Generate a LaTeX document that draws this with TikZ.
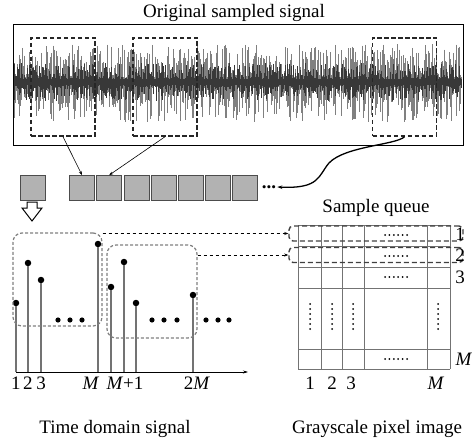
\documentclass[tikz,border=0pt]{standalone}
\usepackage{fontspec}
\setmainfont{Liberation Serif}
\usetikzlibrary{arrows.meta,positioning}
\tikzset{
    lbl/.style = {font=\fontsize{19}{22}\selectfont, inner sep=0pt},
    sel-box/.style = {draw=black!85, line width=1.5pt, dash pattern=on 4.5pt off 2.5pt, minimum width=64pt, minimum height=98pt, inner sep=0pt},
    q-cell/.style = {draw=black!70, fill=black!30, line width=0.8pt, minimum size=25pt, inner sep=0pt},
    win-box/.style = {draw=black!50, line width=1.2pt, dash pattern=on 3pt off 2pt, rounded corners=9pt, inner sep=0pt},
    hl-box/.style = {draw=black!75, line width=1.4pt, dash pattern=on 5pt off 3pt, rounded corners=4pt, inner sep=0pt, minimum width=174pt, minimum height=15pt},
    stem/.style = {draw=black!55, line width=1.3pt},
    stem-dot/.style = {circle, fill=black, inner sep=0pt, minimum size=6.5pt},
    sig-light/.style = {draw=black!50, line width=0.55pt},
    sig-dark/.style = {draw=black!78, line width=0.6pt},
    grid-line/.style = {draw=black!55, line width=1pt},
}

\begin{document}
\begin{tikzpicture}[x=1pt, y=-1pt]
\useasboundingbox (0,0) rectangle (472,444);

% original signal
\node[lbl, anchor=base] (title) at (234,18) {Original sampled signal};
\pgfmathsetseed{11}
\foreach \x in {14.5,15.1,...,461.5}{
    \pgfmathsetmacro{\ra}{rnd}
    \pgfmathsetmacro{\rb}{rnd}
    \draw[sig-light] (\x,82-4-34*\ra*\ra) -- (\x,82+4+36*\rb*\rb);
}
\foreach \x in {14.5,15.3,...,461.5}{
    \pgfmathsetmacro{\ra}{rnd}
    \pgfmathsetmacro{\rb}{rnd}
    \draw[sig-dark] (\x,82-3-16*\ra*\ra) -- (\x,82+3+16*\rb*\rb);
}
\node[draw, line width=1pt, minimum width=450pt, minimum height=121pt, inner sep=0pt] (sig) at (238,85.5) {};
\node[sel-box] (sel1) at (63,87) {};
\node[sel-box] (sel2) at (165,87) {};
\node[sel-box] (sel3) at (404.5,87) {};

% sample queue
\node[q-cell] (q0) at (32.5,188) {};
\node[q-cell] (q1) at (82,188) {};
\node[q-cell, right=1.4pt of q1] (q2) {};
\node[q-cell, right=1.4pt of q2] (q3) {};
\node[q-cell, right=1.4pt of q3] (q4) {};
\node[q-cell, right=1.4pt of q4] (q5) {};
\node[q-cell, right=1.4pt of q5] (q6) {};
\node[q-cell, right=1.4pt of q6] (q7) {};
\node[lbl, inner sep=1pt] (qdots) at (269,187) {\textbf{...}};
\draw[-{Stealth[length=4pt,width=3pt]}, line width=0.6pt] (sel1.south) -- (q1.north);
\draw[-{Stealth[length=4pt,width=3pt]}, line width=0.6pt] (sel2.south) -- (q2.north);
\draw[-{Stealth[length=5pt,width=3.5pt]}, line width=1.3pt] (sel3.south) .. controls (396,145) and (345,146) .. (329,163) .. controls (318,176) and (320,189) .. (qdots.east);
\node[lbl, anchor=base] (sq) at (376,212) {Sample queue};
\draw[line width=1pt, fill=white] (27,202) -- (37,202) -- (37,208) -- (42,208) -- (32,221) -- (22,208) -- (27,208) -- cycle;

% time domain signal
\coordinate (ax0) at (16,372);
\coordinate (ax1) at (248,372);
\foreach \n/\x/\y in {1/16/303, 2/28/263, 3/41/280, 4/98/244, 5/111/287, 6/124/262, 7/136/303, 8/193/295}{
    \node[stem-dot] (d\n) at (\x,\y) {};
    \draw[stem] (d\n) -- (d\n |- ax0);
}
\draw[-{Stealth[length=5pt,width=3pt]}, line width=0.6pt] (ax0) -- (ax1);
\foreach \x in {58,70,82,152,164,177,206,218,229}
    \fill (\x,320) circle (2.6pt);
\node[win-box, minimum width=89pt, minimum height=93pt] (win1) at (57.5,279.5) {};
\node[win-box, minimum width=90pt, minimum height=93pt] (win2) at (152,291.5) {};
\node[lbl] (t1) at (16,383.5) {1};
\node[lbl] (t2) at (28,383.5) {2};
\node[lbl] (t3) at (41,383.5) {3};
\node[lbl] (tM) at (91,383.5) {\textit{M}};
\node[lbl] (tM1) at (125,383.5) {\textit{M}+1};
\node[lbl] (t2M) at (197,383.5) {2\textit{M}};
\node[lbl, anchor=base] (tds) at (115,433) {Time domain signal};

% grayscale pixel image
\foreach \x in {298,321,342,364,427,450}
    \draw[grid-line] (\x,225) -- (\x,369);
\foreach \y in {225,246,267,288,349,369}
    \draw[grid-line] (298,\y) -- (450,\y);
\foreach \y in {235,256,277,359}
    \foreach \x in {385,389.4,393.8,398.2,402.6,407}
        \fill (\x,\y) circle (1pt);
\foreach \x in {310,332,353,438}
    \foreach \y in {304,309,314,319,324,329}
        \fill (\x,\y) circle (1pt);
\node[hl-box] (hl1) at (376,233.5) {};
\node[hl-box] (hl2) at (376,255) {};
\draw[dashed, line width=0.6pt, -{Stealth[length=4pt,width=3pt]}] (win1.north east |- hl1.west) -- (hl1.west);
\draw[dashed, line width=0.6pt, -{Stealth[length=4pt,width=3pt]}] (win2.east |- hl2.west) -- (hl2.west);
\node[lbl] (r1) at (460,234) {1};
\node[lbl] (r2) at (460,255) {2};
\node[lbl] (r3) at (460,277) {3};
\node[lbl] (rM) at (464,359) {\textit{M}};
\node[lbl] (c1) at (310,383.5) {1};
\node[lbl] (c2) at (332,383.5) {2};
\node[lbl] (c3) at (351,383.5) {3};
\node[lbl] (cM) at (436,383.5) {\textit{M}};
\node[lbl, anchor=base] (gpi) at (377,433) {Grayscale pixel image};
\end{tikzpicture}
\end{document}
